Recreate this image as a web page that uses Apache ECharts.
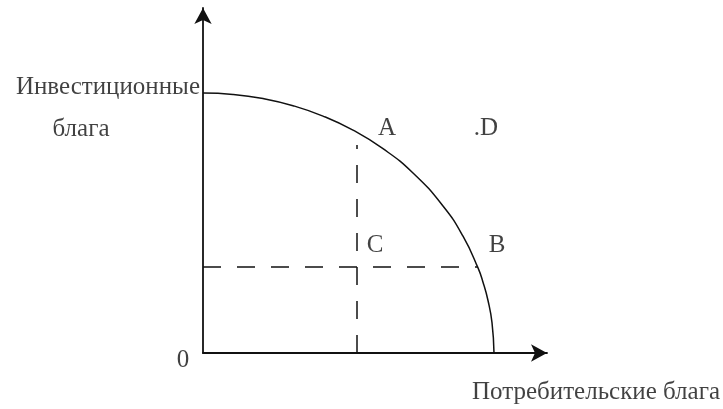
<!DOCTYPE html>
<html><head><meta charset="utf-8">
<script src="https://cdn.jsdelivr.net/npm/echarts@6/dist/echarts.min.js"></script>
<style>html,body{margin:0;padding:0;background:#fff}#c{width:723px;height:409px}</style>
</head><body><div id="c"></div>
<script>
// Production possibility frontier (units ≈ pixels from origin)
const curveX = [0, 30, 60, 90, 120, 150, 180, 210, 240, 260, 275, 280, 285, 289, 291];
const curveY = [260, 258.6, 254.4, 247.3, 236.9, 222.8, 204.3, 180.0, 147.0, 116.8, 85.1, 70.8, 52.5, 30.4, 0];
const vDashX = [154, 154];
const vDashY = [0, 208];
const hDashX = [0, 275];
const hDashY = [86, 86];
const pointNames = ['A', '.D', 'C', 'B'];
const pointX = [184, 283, 172, 294];
const pointY = [225, 225, 108, 108];
const axisTexts = ['Инвестиционные', 'блага', 'Потребительские блага', '0'];
const axisTextX = [-3, -122, 393, -20];
const axisTextY = [266, 224, -39, -7];
const axisTextAlign = ['right', 'center', 'center', 'center'];
const xMax = 344, yMax = 345;

const font = '"Liberation Serif", "Times New Roman", serif';
const zip = (xs, ys) => xs.map((x, i) => [x, ys[i]]);
const chart = echarts.init(document.getElementById('c'));
const axisCommon = {
  type: 'value', min: 0,
  axisLine: { show: true, symbol: ['none', 'arrow'], symbolSize: [13, 16], lineStyle: { color: '#111', width: 1.8 } },
  axisTick: { show: false }, axisLabel: { show: false }, splitLine: { show: false }
};
chart.setOption({
  animation: false,
  backgroundColor: '#fff',
  grid: { left: 203, right: 176, top: 8, bottom: 56 },
  xAxis: Object.assign({}, axisCommon, { max: xMax }),
  yAxis: Object.assign({}, axisCommon, { max: yMax }),
  series: [
    { type: 'line', data: zip(curveX, curveY), smooth: true, showSymbol: false,
      lineStyle: { color: '#111', width: 1.5 } },
    { type: 'line', data: zip(vDashX, vDashY), showSymbol: false,
      lineStyle: { color: '#111', width: 1.5, type: [18, 16] } },
    { type: 'line', data: zip(hDashX, hDashY), showSymbol: false,
      lineStyle: { color: '#111', width: 1.5, type: [18, 16] } },
    { type: 'scatter', clip: false, symbolSize: 0,
      data: pointNames.map((n, i) => ({ value: [pointX[i], pointY[i]], name: n })),
      label: { show: true, position: 'inside', formatter: p => p.name, color: '#111',
        fontFamily: font, fontSize: 25 } },
    { type: 'scatter', clip: false, symbolSize: 0,
      data: axisTexts.map((t, i) => ({ value: [axisTextX[i], axisTextY[i]], name: t,
        label: { align: axisTextAlign[i] } })),
      label: { show: true, position: 'inside', formatter: p => p.name, color: '#111',
        fontFamily: font, fontSize: 25, verticalAlign: 'middle' } }
  ]
});
</script></body></html>
